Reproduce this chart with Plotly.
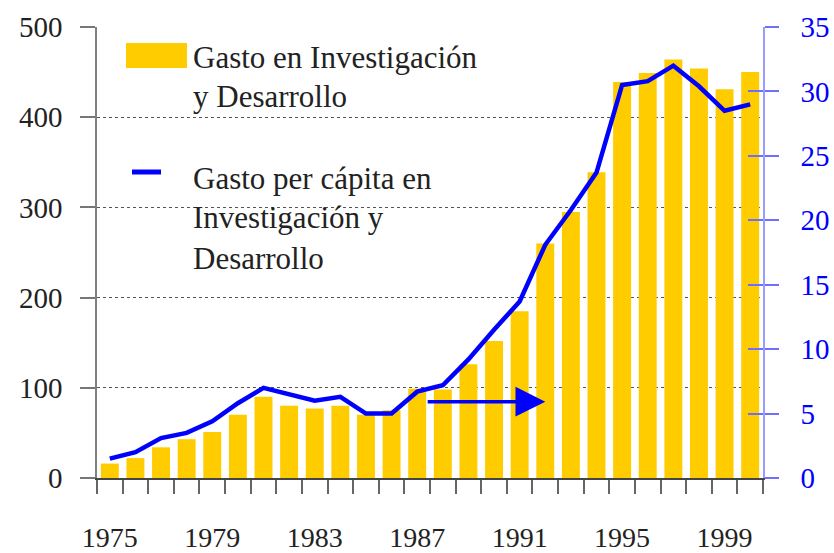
import plotly.graph_objects as go

# ---------------- data ----------------
YEARS = list(range(1975, 2001))
GASTO_ID = [16, 22, 34, 43, 51, 70, 90, 80, 77, 80, 70, 75,
            99, 98, 126, 152, 185, 260, 295, 339, 439, 449, 464, 454, 431, 450]
GASTO_PC = [1.5, 2.0, 3.1, 3.5, 4.4, 5.8, 7.0, 6.5, 6.0, 6.3, 5.0, 5.0,
            6.7, 7.2, 9.2, 11.5, 13.7, 18.1, 20.8, 23.7, 30.5, 30.8, 32.0, 30.4, 28.5, 29.0]
X_LABEL_YEARS = [1975, 1979, 1983, 1987, 1991, 1995, 1999]
LEFT_TICKS = [0, 100, 200, 300, 400, 500]
RIGHT_TICKS = [0, 5, 10, 15, 20, 25, 30, 35]
LEGEND_BAR = ["Gasto en Investigación", "y Desarrollo"]
LEGEND_LINE = ["Gasto per cápita en", "Investigación y", "Desarrollo"]
ARROW_FROM, ARROW_TO, ARROW_LEVEL = 1987.35, 1992.0, 84.6

# ---------------- layout geometry ----------------
W, H = 834, 553
L, R, T, B = 97, 763, 27, 478
XR = [YEARS[0] - 0.5, YEARS[-1] + 0.5]
FONT = "Liberation Serif"
BAR_COLOR = "#FFCC00"
BLUE = "#0000FF"

def px(x):
    return (x - L) / (R - L)

def py(y):
    return (B - y) / (B - T)

fig = go.Figure()
fig.add_trace(go.Bar(x=YEARS, y=GASTO_ID, marker=dict(color=BAR_COLOR, line=dict(width=0)),
                     width=0.7, xaxis="x", yaxis="y", showlegend=False, hoverinfo="skip"))
fig.add_trace(go.Scatter(x=YEARS, y=GASTO_PC, mode="lines", line=dict(color=BLUE, width=4.5),
                         xaxis="x2", yaxis="y2", showlegend=False, hoverinfo="skip"))
# helper (empty) trace so the inner-tick overlay axis is created
fig.add_trace(go.Scatter(x=[YEARS[0]], y=[None], mode="lines", xaxis="x", yaxis="y3",
                         showlegend=False, hoverinfo="skip"))

boundaries = [y - 0.5 for y in YEARS] + [YEARS[-1] + 0.5]

fig.update_layout(
    width=W, height=H,
    margin=dict(l=L, r=W - R, t=T, b=H - B, pad=0, autoexpand=False),
    paper_bgcolor="white", plot_bgcolor="white",
    font=dict(family=FONT, color="#222222"),
    xaxis=dict(range=XR, tickmode="array", tickvals=boundaries, ticktext=[""] * len(boundaries),
               ticks="outside", ticklen=14, tickwidth=1.5, tickcolor="#666666", automargin=False,
               showline=True, linecolor="#444444", linewidth=1.5, showgrid=False, zeroline=False),
    xaxis2=dict(range=XR, overlaying="x", anchor="y", side="bottom", tickmode="array",
                tickvals=X_LABEL_YEARS, ticktext=[str(v) for v in X_LABEL_YEARS], automargin=False,
                ticks="", ticklen=0, ticklabelstandoff=40, showline=False, showgrid=False,
                zeroline=False, tickfont=dict(size=28, family=FONT, color="#222222")),
    yaxis=dict(range=[0, 500], tickmode="array", tickvals=LEFT_TICKS, automargin=False,
               ticks="outside", ticklen=15, tickwidth=1.5, tickcolor="#777777",
               showline=True, linecolor="#808080", linewidth=1.5,
               showgrid=True, gridcolor="#555555", griddash="dot", gridwidth=1,
               zeroline=False, ticklabelstandoff=12,
               tickfont=dict(size=29, family=FONT, color="#222222")),
    yaxis2=dict(range=[0, 35], overlaying="y", side="right", anchor="x", tickmode="array",
                tickvals=RIGHT_TICKS, ticks="outside", ticklen=14, tickwidth=1.5, automargin=False,
                tickcolor="#6f6fff", showline=True, linecolor="#9a9aff", linewidth=1.5,
                showgrid=False, zeroline=False, ticklabelstandoff=16,
                tickfont=dict(size=29, family=FONT, color=BLUE)),
    yaxis3=dict(range=[0, 35], overlaying="y", side="right", anchor="x", tickmode="array",
                tickvals=RIGHT_TICKS, ticks="inside", ticklen=15, tickwidth=1.5, automargin=False,
                tickcolor="#6f6fff", showline=False, showgrid=False, zeroline=False,
                showticklabels=False),
)

# arrow
fig.add_annotation(x=ARROW_TO, y=ARROW_LEVEL, ax=ARROW_FROM, ay=ARROW_LEVEL,
                   xref="x", yref="y", axref="x", ayref="y", text="", showarrow=True,
                   arrowhead=2, arrowsize=1.7, arrowwidth=3.5, arrowcolor=BLUE)

# custom legend
shapes = [
    dict(type="rect", xref="paper", yref="paper", x0=px(126), x1=px(187), y0=py(68), y1=py(43),
         fillcolor=BAR_COLOR, line=dict(width=0)),
    dict(type="line", xref="paper", yref="paper", x0=px(132), x1=px(161), y0=py(172), y1=py(172),
         line=dict(color=BLUE, width=5)),
]
fig.update_layout(shapes=shapes)

for text, yc in zip(LEGEND_BAR, [57, 97]):
    fig.add_annotation(x=px(191), y=py(yc), xref="paper", yref="paper", text=text,
                       showarrow=False, xanchor="left", yanchor="middle",
                       font=dict(size=31, family=FONT, color="#222222"))
for text, yc in zip(LEGEND_LINE, [178, 217, 258]):
    fig.add_annotation(x=px(191), y=py(yc), xref="paper", yref="paper", text=text,
                       showarrow=False, xanchor="left", yanchor="middle",
                       font=dict(size=31, family=FONT, color="#222222"))

fig.write_html("out.html", config={"displayModeBar": False},
               post_script="document.body.style.margin='0px';")
